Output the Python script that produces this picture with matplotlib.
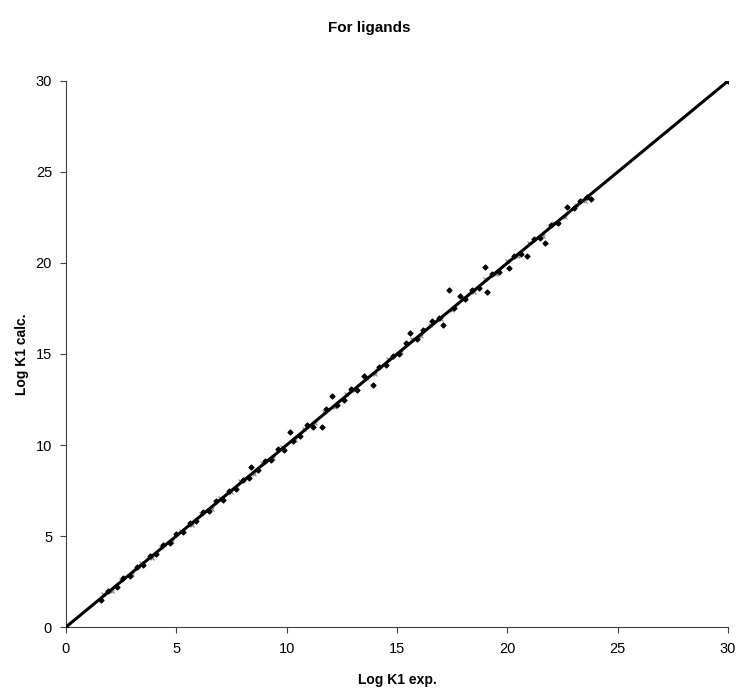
import matplotlib
matplotlib.use("Agg")
import matplotlib.pyplot as plt

# valeurs (exp / calc)
exp1 = [0.0, 1.6, 1.9, 2.3, 2.6, 2.9, 3.2, 3.5, 3.8, 4.1, 4.4, 4.7, 5.0, 5.3, 5.6, 5.9,
        6.2, 6.5, 6.8, 7.1, 7.4, 7.7, 8.0, 8.3, 8.4, 8.7, 9.0, 9.3, 9.6, 9.9, 10.15, 10.3,
        10.6, 10.9, 11.2, 11.6, 11.8, 12.05, 12.3, 12.6, 12.9, 13.2, 13.5, 13.9, 14.2, 14.5,
        14.8, 15.1, 15.4, 15.6, 15.9, 16.2, 16.6, 16.9, 17.1, 17.35, 17.6, 17.85, 18.1, 18.4,
        18.7, 18.99, 19.07, 19.3, 19.6, 20.07, 20.3, 20.6, 20.9, 21.2, 21.5, 21.7, 22.0, 22.3,
        22.7, 23.0, 23.3, 23.6, 23.8, 30.0]
calc1 = [0.0, 1.5, 2.0, 2.2, 2.7, 2.8, 3.3, 3.4, 3.9, 4.0, 4.5, 4.6, 5.1, 5.2, 5.7, 5.8,
         6.3, 6.4, 6.9, 7.0, 7.5, 7.6, 8.1, 8.2, 8.8, 8.6, 9.1, 9.2, 9.8, 9.7, 10.7, 10.2,
         10.5, 11.1, 11.0, 11.0, 12.0, 12.7, 12.2, 12.5, 13.1, 13.0, 13.8, 13.3, 14.3, 14.4,
         14.9, 15.0, 15.6, 16.15, 15.8, 16.3, 16.8, 17.0, 16.6, 18.5, 17.5, 18.2, 18.0, 18.5,
         18.6, 19.8, 18.4, 19.4, 19.5, 19.7, 20.4, 20.5, 20.4, 21.3, 21.4, 21.1, 22.1, 22.2,
         23.1, 23.0, 23.4, 23.6, 23.5, 30.0]

exp2 = [1.7, 2.1, 2.5, 3.0, 3.4, 3.9, 4.3, 4.8, 5.2, 5.7, 6.1, 6.6, 7.0, 7.5, 7.9, 8.5,
        8.9, 9.4, 9.8, 10.4, 10.8, 11.3, 11.7, 12.2, 12.7, 13.1, 13.6, 14.0, 14.6, 15.2,
        15.7, 16.1, 16.5, 17.0, 17.5, 18.0, 18.5, 19.0, 19.5, 20.0, 20.5, 21.0, 21.6, 22.1,
        22.6, 23.1, 23.5]
calc2 = [1.8, 2.0, 2.6, 2.9, 3.5, 3.8, 4.4, 4.7, 5.3, 5.6, 6.2, 6.5, 7.1, 7.4, 8.0, 8.4,
         9.0, 9.3, 9.9, 10.3, 10.9, 11.2, 11.8, 12.1, 12.8, 13.0, 13.7, 13.9, 14.7, 15.1,
         15.8, 16.0, 16.6, 16.9, 17.4, 18.1, 18.4, 19.1, 19.4, 20.1, 20.4, 21.1, 21.5, 22.2,
         22.5, 23.2, 23.4]

line_x = [0, 30]
ticks = [0, 5, 10, 15, 20, 25, 30]

plt.rcParams['font.family'] = ['Liberation Sans', 'DejaVu Sans']

fig = plt.figure(figsize=(7.38, 6.91), dpi=100)
ax = fig.add_axes([0.0894, 0.0926, 0.8971, 0.7902])

ax.scatter(exp2, calc2, marker='x', s=8, color='#808080', linewidths=0.8, zorder=2)
ax.scatter(exp1, calc1, marker='D', s=6, color='black', zorder=3)
ax.plot(line_x, line_x, color='black', lw=2.2, zorder=4)

ax.set_xlim(0, 30)
ax.set_ylim(0, 30)
ax.set_xticks(ticks)
ax.set_yticks(ticks)
ax.tick_params(direction='out', length=4, width=0.8, colors='#404040', labelsize=10.5,
               labelcolor='black')
ax.tick_params(axis='x', pad=7)
ax.tick_params(axis='y', pad=6)
for s in ['top', 'right']:
    ax.spines[s].set_visible(False)
for s in ['left', 'bottom']:
    ax.spines[s].set_color('#404040')

ax.set_xlabel('Log K1 exp.', fontweight='bold', fontsize=10, labelpad=12)
ax.set_ylabel('Log K1 calc.', fontweight='bold', fontsize=10, labelpad=5)
fig.suptitle('For ligands', fontweight='bold', fontsize=11, y=0.97)

fig.savefig('out.png', dpi=100)
